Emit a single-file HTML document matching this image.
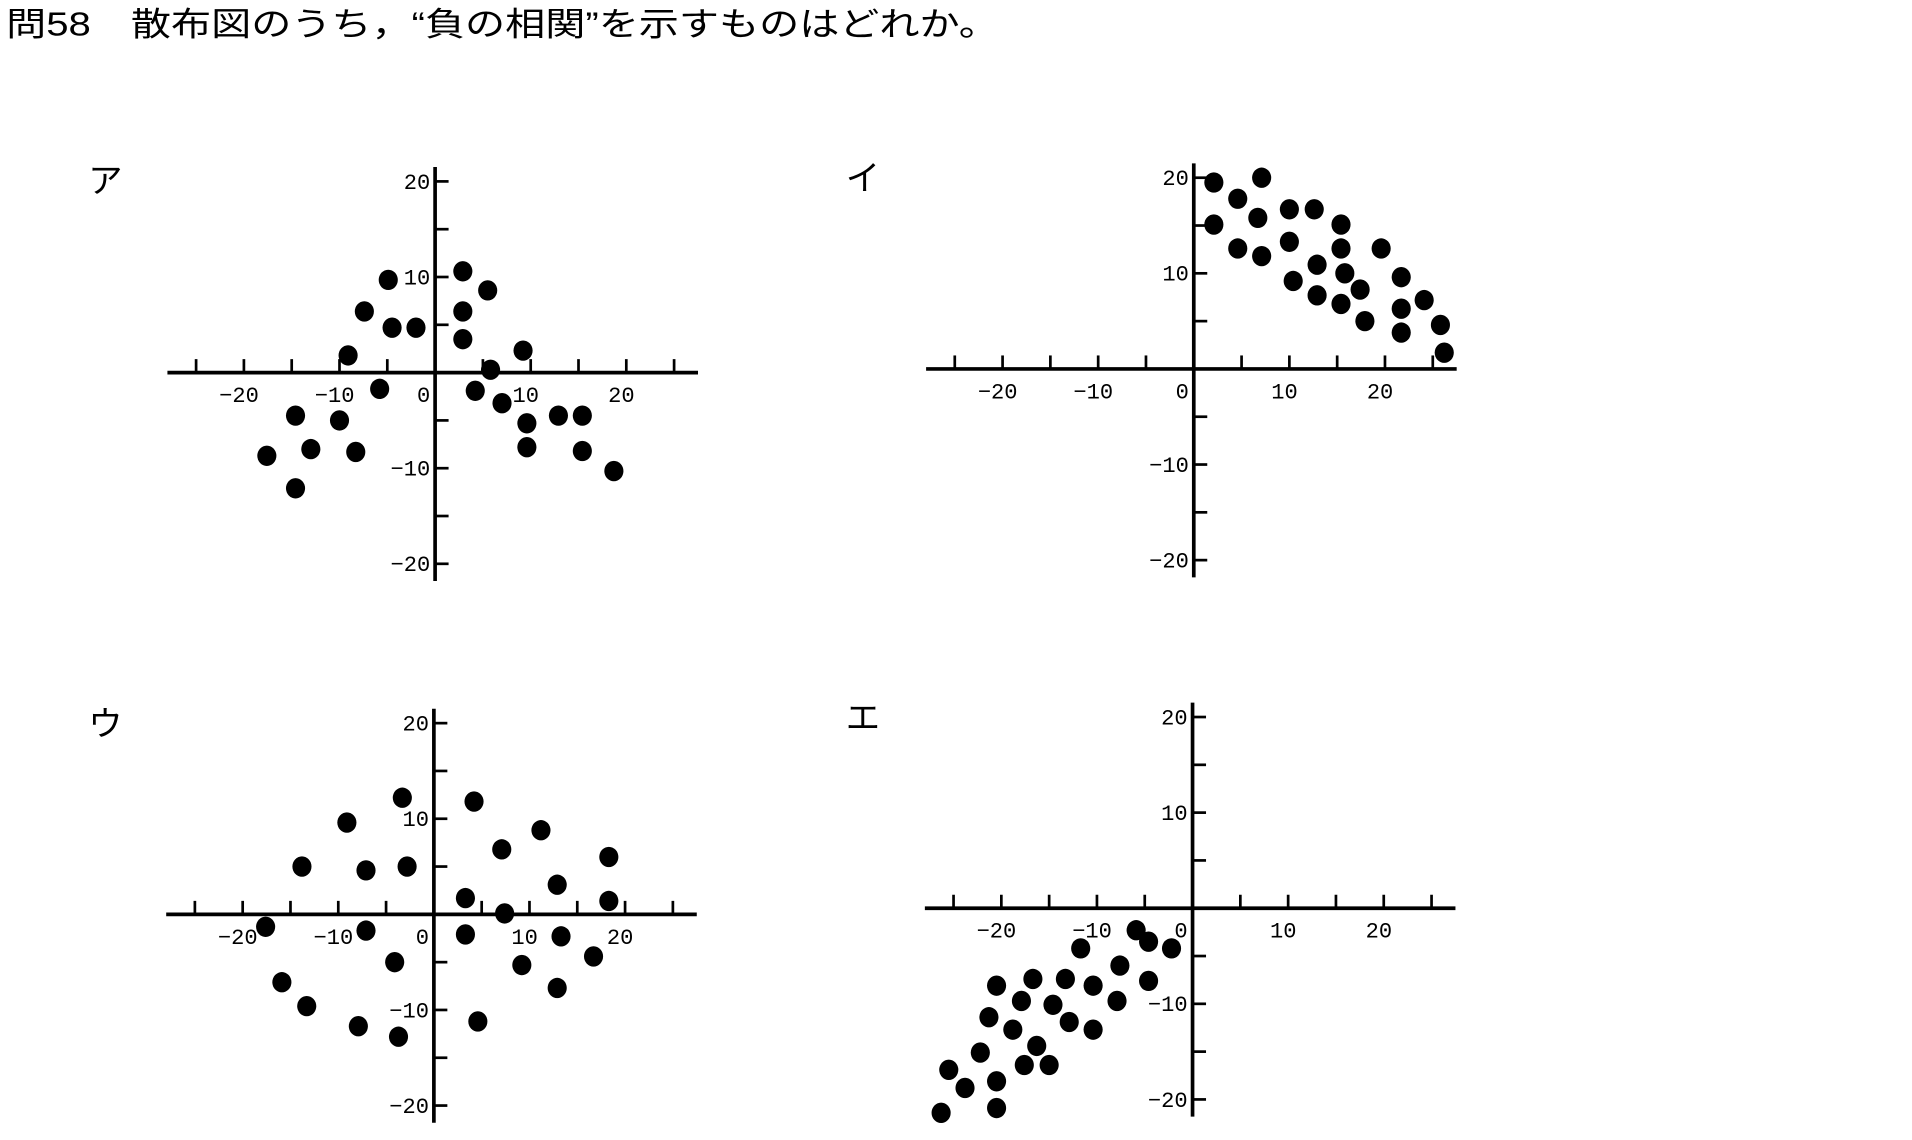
<!DOCTYPE html>
<html><head><meta charset="utf-8"><style>
html,body{margin:0;padding:0;background:#fff;}
svg{display:block;}
text{font-family:"Liberation Sans","Noto Sans CJK JP",sans-serif;fill:#000;}
.tk{font-family:"Liberation Mono",monospace;}
</style></head><body>
<svg id="s" width="1912" height="1140" viewBox="0 0 1560 930.1" preserveAspectRatio="none">
<text x="5" y="29" font-size="27" textLength="810" lengthAdjust="spacingAndGlyphs">問58　散布図のうち，“負の相関”を示すものはどれか。</text>
</svg>
<script>
var dataA_x=[-17.6,-14.6,-14.6,-13,-10,-8.3,-9.1,-7.4,-5.8,-4.9,-4.5,-2,2.9,2.9,2.9,5.5,5.8,4.2,7,9.2,9.6,9.6,12.9,15.4,15.4,18.7];
var dataA_y=[-8.7,-12.1,-4.5,-8,-5,-8.3,1.8,6.4,-1.7,9.7,4.7,4.7,10.6,6.4,3.5,8.6,0.3,-1.9,-3.2,2.3,-5.3,-7.8,-4.5,-4.5,-8.2,-10.3];
var dataI_x=[2.1,2.1,4.6,4.6,7.1,6.7,7.1,10,10,10.4,12.6,12.9,12.9,15.4,15.4,15.8,15.4,17.4,17.9,19.6,21.7,21.7,21.7,24.1,25.8,26.2];
var dataI_y=[19.5,15.1,17.8,12.6,20,15.8,11.8,16.7,13.3,9.2,16.7,10.9,7.7,15.1,12.6,10,6.8,8.3,5,12.6,9.6,6.3,3.8,7.2,4.6,1.7];
var dataU_x=[-17.6,-15.9,-13.8,-13.3,-9.1,-7.9,-7.1,-7.1,-4.1,-3.7,-3.3,-2.8,3.3,3.3,4.2,4.6,7.1,7.4,9.2,11.2,12.9,13.3,12.9,16.7,18.3,18.3];
var dataU_y=[-1.3,-7.1,5,-9.6,9.6,-11.7,4.6,-1.7,-5,-12.8,12.2,5,1.7,-2.1,11.8,-11.2,6.8,0.1,-5.3,8.8,3.1,-2.3,-7.7,-4.4,6,1.4];
var dataE_x=[-26.3,-25.5,-23.8,-22.2,-21.3,-20.5,-20.5,-20.5,-18.8,-17.9,-17.6,-16.7,-16.3,-15,-14.6,-13.3,-12.9,-11.7,-10.4,-10.4,-7.9,-7.6,-5.9,-4.6,-4.6,-2.2];
var dataE_y=[-21.4,-16.9,-18.8,-15.1,-11.4,-8.1,-18.1,-20.9,-12.7,-9.7,-16.4,-7.4,-14.4,-16.4,-10.1,-7.4,-11.9,-4.2,-8.1,-12.7,-9.7,-6,-2.3,-3.5,-7.6,-4.2];
var xTickLabels=["−20","−10","0","10","20"];
var xTickValues=[-20,-10,0,10,20];
var yTickLabels=["20","10","−10","−20"];
var yTickValues=[20,10,-10,-20];
var panelLabels=["ア","イ","ウ","エ"];

var NS="http://www.w3.org/2000/svg";
var svg=document.getElementById('s');
function mk(tag,attrs,parent){var e=document.createElementNS(NS,tag);for(var k in attrs)e.setAttribute(k,attrs[k]);(parent||svg).appendChild(e);return e;}
var panels=[
 {ox:355,oy:304,xs:dataA_x,ys:dataA_y,lx:72,ly:157,name:'a'},
 {ox:974,oy:301,xs:dataI_x,ys:dataI_y,lx:690,ly:155,name:'i'},
 {ox:354,oy:746,xs:dataU_x,ys:dataU_y,lx:72,ly:600,name:'u'},
 {ox:973,oy:741,xs:dataE_x,ys:dataE_y,lx:690,ly:595,name:'e'}
];
var K=7.8;
panels.forEach(function(p,pi){
  var g=mk('g',{});
  
  
  function sx(v){return p.ox+v*K;}
  function sy(v){return p.oy-v*K;}
  var lab=mk('text',{x:p.lx,y:p.ly,'font-size':28},g);lab.textContent=panelLabels[pi];
  
  
  var xa=mk('line',{x1:sx(-28),x2:sx(27.5),y1:p.oy,y2:p.oy,stroke:'#000','stroke-width':3},g);
  
  
  var ya=mk('line',{x1:p.ox,x2:p.ox,y1:sy(21.5),y2:sy(-21.8),stroke:'#000','stroke-width':3},g);
  
  
  for(var v=-25;v<=25;v+=5){ if(v===0)continue;
    mk('line',{x1:sx(v),x2:sx(v),y1:p.oy,y2:p.oy-11,stroke:'#000','stroke-width':2.2},g);
    if(Math.abs(v)<=20) mk('line',{x1:p.ox,x2:p.ox+11,y1:sy(v),y2:sy(v),stroke:'#000','stroke-width':2.2},g);
  }
  xTickValues.forEach(function(v,i){
    var t=mk('text',{'class':'tk',x:(v===0?p.ox-4:sx(v)-4),y:p.oy+24,'font-size':18,'text-anchor':(v===0?'end':'middle')},g);
    t.textContent=xTickLabels[i];
    
    
  });
  yTickValues.forEach(function(v,i){
    var t=mk('text',{'class':'tk',x:p.ox-4,y:sy(v)+6,'font-size':18,'text-anchor':'end'},g);
    t.textContent=yTickLabels[i];
    
    
  });
  p.xs.forEach(function(xv,i){
    var c=mk('ellipse',{cx:sx(xv),cy:sy(p.ys[i]),rx:7.8,ry:8.3,fill:'#000'},g);
    
    
  });
});
</script>
</body></html>
